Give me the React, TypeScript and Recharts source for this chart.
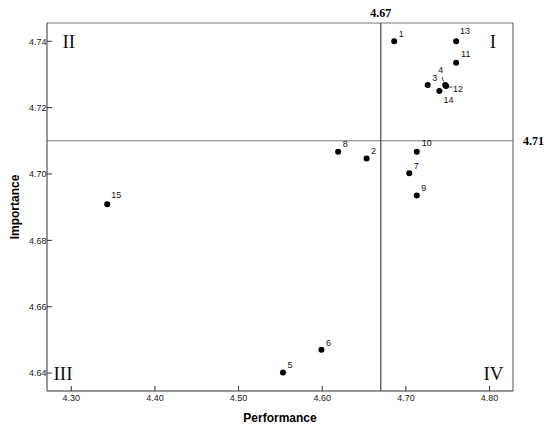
import React from "react"
import { ScatterChart, Scatter, XAxis, YAxis, ReferenceLine, ReferenceDot } from "recharts"

// Items 1..15
const itemIds = [1, 2, 3, 4, 5, 6, 7, 8, 9, 10, 11, 12, 13, 14, 15]
const performance = [4.686, 4.653, 4.726, 4.747, 4.553, 4.599, 4.704, 4.619, 4.713, 4.713, 4.76, 4.748, 4.76, 4.74, 4.343]
const importance = [4.74, 4.7047, 4.7268, 4.7268, 4.6402, 4.647, 4.7002, 4.7067, 4.6935, 4.7067, 4.7335, 4.7265, 4.74, 4.725, 4.6909]

const xTicks = [4.3, 4.4, 4.5, 4.6, 4.7, 4.8]
const yTicks = [4.64, 4.66, 4.68, 4.7, 4.72, 4.74]

const meanPerformance = 4.67
const meanImportance = 4.71

const quadrants = ["I", "II", "III", "IV"]

const xDomain: [number, number] = [4.271, 4.828]
const yDomain: [number, number] = [4.6346, 4.7455]

const data = itemIds.map((id, i) => ({ id, performance: performance[i], importance: importance[i] }))

// label nudges (px) for crowded points
const labelNudge: Record<number, { dx: number; dy: number; lead?: number[] }> = {
  4: { dx: -7, dy: -12.5, lead: [-3.2, -8, -1.6, -3.5] },
  12: { dx: 7, dy: 5.5, lead: [3, 1, 6.5, 1] },
  14: { dx: 4, dy: 12 },
  13: { dx: 4, dy: -7 },
  11: { dx: 5, dy: -6 },
  10: { dx: 5, dy: -6 },
  15: { dx: 4, dy: -6 },
}

const sans = "'Liberation Sans', Arial, sans-serif"
const serif = "'Liberation Serif', 'Times New Roman', serif"

const Point = (props: any) => {
  const { cx, cy, payload } = props
  const n = labelNudge[payload.id] || { dx: 4.5, dy: -4.3 }
  return (
    <g>
      <circle cx={cx} cy={cy} r={3} fill="#000" />
      {n.lead && (
        <line x1={cx + n.lead[0]} y1={cy + n.lead[1]} x2={cx + n.lead[2]} y2={cy + n.lead[3]} stroke="#222" strokeWidth={0.8} />
      )}
      <text x={cx + n.dx} y={cy + n.dy} fontSize={9} fontFamily={sans} fill="#111">
        {payload.id}
      </text>
    </g>
  )
}

const XTick = (props: any) => {
  const { x, y, payload } = props
  return (
    <g>
      <line x1={x} y1={y} x2={x} y2={y - 5} stroke="#333" />
      <text x={x} y={y + 9.7} textAnchor="middle" fontSize={9} fontFamily={sans} fill="#222">
        {payload.value.toFixed(2)}
      </text>
    </g>
  )
}

const YTick = (props: any) => {
  const { x, y, payload } = props
  return (
    <g>
      <line x1={x} y1={y} x2={x + 5} y2={y} stroke="#333" />
      <text x={x - 0.5} y={y + 3.3} textAnchor="end" fontSize={9} fontFamily={sans} fill="#222">
        {payload.value.toFixed(2)}
      </text>
    </g>
  )
}

export default function App() {
  const romanStyle = { fontSize: 19, fontFamily: serif, fill: "#111" }
  return (
    <div style={{ position: "absolute", left: 0, top: 0, background: "#fff" }}>
      <ScatterChart width={550} height={434} margin={{ top: 23, right: 37, bottom: 0, left: 0 }}>
        <XAxis
          type="number"
          dataKey="performance"
          domain={xDomain}
          ticks={xTicks}
          allowDataOverflow
          height={43}
          tickSize={0}
          tickMargin={0}
          tick={<XTick />}
          stroke="#333"
          label={{
            value: "Performance",
            position: "insideBottom",
            offset: 12,
            style: { fontSize: 12, fontWeight: "bold", fontFamily: sans, fill: "#000" },
          }}
        />
        <YAxis
          type="number"
          dataKey="importance"
          domain={yDomain}
          ticks={yTicks}
          allowDataOverflow
          width={47}
          tickSize={0}
          tickMargin={0}
          tick={<YTick />}
          stroke="#333"
          label={{
            value: "Importance",
            angle: -90,
            position: "insideLeft",
            offset: 15,
            style: { fontSize: 12, fontWeight: "bold", fontFamily: sans, fill: "#000", textAnchor: "middle" },
          }}
        />
        {/* plot frame top / right */}
        <ReferenceLine y={yDomain[1]} stroke="#777" />
        <ReferenceLine x={xDomain[1]} stroke="#555" />
        <ReferenceLine
          y={meanImportance}
          stroke="#777"
          label={{
            value: meanImportance.toFixed(2),
            position: "right",
            offset: 10,
            style: { fontSize: 12, fontWeight: "bold", fontFamily: serif, fill: "#000" },
          }}
        />
        <ReferenceLine
          x={meanPerformance}
          stroke="#222"
          label={{
            value: meanPerformance.toFixed(2),
            position: "top",
            offset: 6,
            style: { fontSize: 12, fontWeight: "bold", fontFamily: serif, fill: "#000" },
          }}
        />
        <ReferenceDot x={xDomain[1]} y={yTicks[5]} r={0} fill="none" stroke="none"
          label={{ value: quadrants[0], position: "left", offset: 17, style: romanStyle }} />
        <ReferenceDot x={xDomain[0]} y={yTicks[5]} r={0} fill="none" stroke="none"
          label={{ value: quadrants[1], position: "right", offset: 15.5, style: romanStyle }} />
        <ReferenceDot x={xDomain[0]} y={yTicks[0]} r={0} fill="none" stroke="none"
          label={{ value: quadrants[2], position: "right", offset: 6.5, style: romanStyle }} />
        <ReferenceDot x={xDomain[1]} y={yTicks[0]} r={0} fill="none" stroke="none"
          label={{ value: quadrants[3], position: "left", offset: 9.5, style: romanStyle }} />
        <Scatter data={data} shape={<Point />} isAnimationActive={false} />
      </ScatterChart>
    </div>
  )
}
